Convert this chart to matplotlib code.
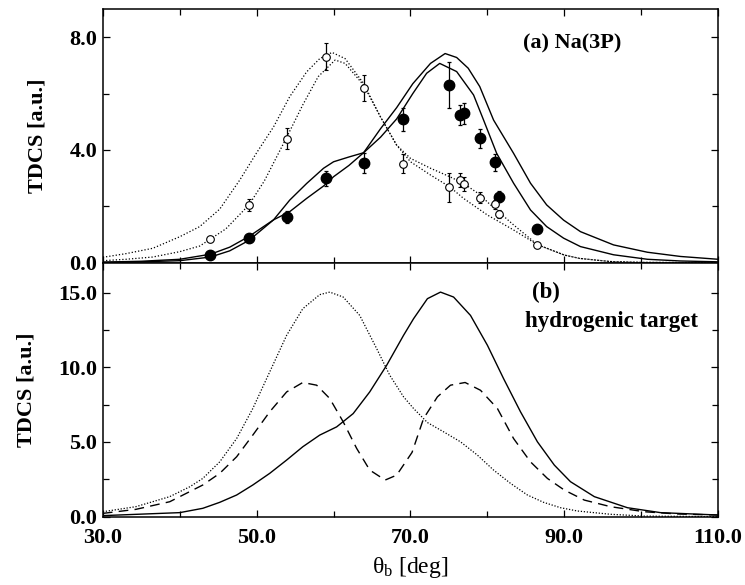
import matplotlib
matplotlib.use('Agg')
import matplotlib.pyplot as plt
from matplotlib.ticker import MultipleLocator, FixedLocator, FormatStrFormatter

plt.rcParams['font.family'] = ['Liberation Serif', 'DejaVu Serif']
plt.rcParams['mathtext.fontset'] = 'custom'
plt.rcParams['mathtext.rm'] = 'Liberation Serif'
plt.rcParams['mathtext.it'] = 'Liberation Serif:italic'

# (a) Na(3P): measured points
filled_x = [44, 49, 54, 59, 64, 69, 75, 76.5, 77, 79, 81, 81.5, 86.5]
filled_y = [0.27, 0.88, 1.61, 2.99, 3.54, 5.08, 6.30, 5.24, 5.30, 4.41, 3.56, 2.34, 1.21]
filled_err = [0.05, 0.1, 0.22, 0.27, 0.35, 0.4, 0.83, 0.37, 0.38, 0.34, 0.3, 0.2, 0.1]
open_x = [44, 49, 54, 59, 64, 69, 75, 76.5, 77, 79, 81, 81.5, 86.5]
open_y = [0.84, 2.05, 4.40, 7.31, 6.20, 3.51, 2.67, 2.93, 2.79, 2.31, 2.07, 1.72, 0.63]
open_err = [0.05, 0.2, 0.38, 0.47, 0.45, 0.34, 0.5, 0.25, 0.25, 0.2, 0.15, 0.15, 0.03]

# (a) theory curves
dot1_x = [30, 33, 36.5, 40, 42.6, 45.2, 47.8, 50, 52.2, 54.3, 56.5, 58.2, 59.8, 61.5, 63.9,
          66.1, 68.2, 70, 72.6, 75.1, 76.9, 80, 83.4, 86.5, 90, 92, 96, 100, 110]
dot1_y = [0.19, 0.32, 0.51, 0.92, 1.28, 1.9, 2.93, 3.9, 4.82, 5.89, 6.77, 7.24, 7.46, 7.24, 6.36,
          5.17, 4.17, 3.58, 3.11, 2.69, 2.28, 1.69, 1.16, 0.64, 0.27, 0.15, 0.04, 0.01, 0.0]
dot2_x = [30, 33, 36.5, 40, 42.6, 44, 46, 49, 51, 54, 56, 58, 60.2, 61.5, 63.9, 66.1, 68.2,
          70, 72.6, 75.1, 76.9, 79.1, 80, 83.4, 86.5, 90, 92, 96, 100, 110]
dot2_y = [0.07, 0.12, 0.2, 0.39, 0.59, 0.84, 1.2, 2.05, 2.9, 4.5, 5.6, 6.6, 7.19, 7.07, 6.3, 5.17, 4.17,
          3.70, 3.35, 3.05, 2.81, 2.40, 2.15, 1.34, 0.64, 0.27, 0.15, 0.04, 0.01, 0.0]
sol1_x = [30, 35, 40, 44, 46.5, 49, 52.2, 54.3, 56.5, 58.7, 60, 62, 63.9, 66.1, 68.2, 70.3, 72.6,
          74.5, 76, 77.5, 79, 80.8, 83.4, 85.6, 87.7, 89.9, 92.1, 96.4, 100.8, 105.1, 110]
sol1_y = [0.02, 0.05, 0.12, 0.30, 0.55, 0.93, 1.52, 1.81, 2.28, 2.72, 3.05, 3.45, 3.90, 4.75, 5.5, 6.35, 7.07,
          7.42, 7.28, 6.9, 6.25, 5.06, 3.88, 2.82, 2.05, 1.51, 1.10, 0.63, 0.37, 0.22, 0.12]
sol2_x = [30, 35, 40, 44, 46.5, 49, 52.2, 54.3, 56.5, 58.7, 60, 62, 63.9, 66.1, 68.2, 70.3, 72.1,
          73.8, 76, 78.2, 79.5, 81.2, 83.4, 85.6, 87.7, 89.9, 92.1, 96.4, 100.8, 105.1, 110]
sol2_y = [0.01, 0.03, 0.07, 0.20, 0.42, 0.79, 1.52, 2.22, 2.81, 3.35, 3.58, 3.75, 3.90, 4.45, 5.1, 6.0, 6.72,
          7.07, 6.78, 5.95, 5.06, 3.88, 2.82, 1.87, 1.28, 0.87, 0.57, 0.28, 0.12, 0.06, 0.03]

# (b) hydrogenic target curves
hdot_x = [30, 34.3, 38.7, 41.3, 43, 45.2, 47.4, 49.5, 51.7, 53.9, 56, 58.2, 59.5, 61.25, 63.4, 65.6,
          67.3, 69.1, 70.4, 72.2, 74.3, 76.5, 78.7, 80.8, 83, 85.2, 87.3, 89.5, 91.7, 96, 100.4, 110]
hdot_y = [0.33, 0.67, 1.34, 2.0, 2.56, 3.67, 5.23, 7.24, 9.69, 12.14, 13.92, 14.86, 15.03, 14.7, 13.47, 11.25,
          9.47, 8.02, 7.24, 6.30, 5.68, 5.01, 4.12, 3.12, 2.23, 1.45, 0.96, 0.6, 0.38, 0.16, 0.04, 0.0]
hsol_x = [30, 40, 43, 45.2, 47.4, 49.5, 51.7, 53.9, 56, 58.2, 60.4, 62.55, 64.7, 66.9, 69.1, 70.4,
          72.2, 73.9, 75.6, 77.8, 80, 82.1, 84.3, 86.5, 88.7, 90.8, 93.9, 98.2, 102.5, 110]
hsol_y = [0.07, 0.27, 0.56, 0.96, 1.45, 2.12, 2.9, 3.79, 4.68, 5.46, 6.01, 6.9, 8.35, 10.13, 12.14, 13.25,
          14.59, 15.03, 14.7, 13.47, 11.47, 9.24, 7.02, 5.01, 3.45, 2.34, 1.34, 0.6, 0.27, 0.11]
hdash_x = [30, 34.3, 38.7, 43, 45.2, 47.4, 49.5, 51.7, 53.9, 56, 57.8, 59.5, 61.25, 63, 64.7, 66.7,
           68.2, 70.2, 71.7, 73.5, 75.2, 77.1, 79.1, 81.3, 83.4, 85.6, 87.8, 90, 92.6, 96, 100.4, 104.7, 110]
hdash_y = [0.22, 0.49, 1.0, 2.12, 2.9, 4.01, 5.46, 7.02, 8.35, 8.98, 8.8, 7.91, 6.35, 4.57, 3.12, 2.45,
           2.78, 4.3, 6.57, 8.02, 8.8, 8.98, 8.46, 7.24, 5.23, 3.67, 2.56, 1.78, 1.11, 0.67, 0.33, 0.18, 0.11]

x_labels = [30, 50, 70, 90, 110]

fig = plt.figure(figsize=(7.45, 5.85), dpi=100)
ax1 = fig.add_axes([0.138, 0.551, 0.826, 0.4336])
ax2 = fig.add_axes([0.138, 0.1168, 0.826, 0.4342])

dotted = (0, (1, 1.6))

ax1.plot(dot1_x, dot1_y, color='black', lw=0.9, ls=dotted)
ax1.plot(dot2_x, dot2_y, color='black', lw=0.9, ls=dotted)
ax1.plot(sol1_x, sol1_y, color='black', lw=1.0)
ax1.plot(sol2_x, sol2_y, color='black', lw=1.0)
ax1.errorbar(filled_x, filled_y, yerr=filled_err, fmt='o', color='black', ms=7.5,
             elinewidth=0.9, capsize=1.5, capthick=0.9, zorder=5)
ax1.errorbar(open_x, open_y, yerr=open_err, fmt='o', color='black', mfc='white', ms=5.5,
             mew=0.8, elinewidth=0.9, capsize=1.5, capthick=0.9, zorder=5)
ax1.text(0.763, 0.866, '(a) Na(3P)', transform=ax1.transAxes, ha='center', va='center',
         fontsize=16, fontweight='bold')

ax2.plot(hdot_x, hdot_y, color='black', lw=0.9, ls=(0, (1, 1.4)))
ax2.plot(hsol_x, hsol_y, color='black', lw=1.0)
ax2.plot(hdash_x, hdash_y, color='black', lw=1.0, ls=(0, (7, 4.5)))
ax2.text(0.72, 0.881, '(b)', transform=ax2.transAxes, ha='center', va='center',
         fontsize=16.5, fontweight='bold')
ax2.text(0.826, 0.767, 'hydrogenic target', transform=ax2.transAxes, ha='center', va='center',
         fontsize=16.5, fontweight='bold')

ax1.set_ylim(0, 9)
ax1.yaxis.set_major_locator(MultipleLocator(4))
ax1.yaxis.set_minor_locator(MultipleLocator(2))
ax2.set_ylim(0, 17)
ax2.yaxis.set_major_locator(MultipleLocator(5))
ax2.yaxis.set_minor_locator(MultipleLocator(2.5))

for ax in (ax1, ax2):
    ax.set_xlim(30, 110)
    ax.xaxis.set_major_locator(FixedLocator(x_labels))
    ax.xaxis.set_minor_locator(MultipleLocator(10))
    ax.xaxis.set_major_formatter(FormatStrFormatter('%.1f'))
    ax.yaxis.set_major_formatter(FormatStrFormatter('%.1f'))
    ax.tick_params(which='both', direction='in', top=True, right=True, width=0.9)
    ax.tick_params(which='major', length=5, labelsize=16, pad=4)
    ax.tick_params(which='minor', length=4.5)
    ax.tick_params(axis='x', which='major', pad=8)
    for lab in ax.get_xticklabels() + ax.get_yticklabels():
        lab.set_fontweight('bold')
    for sp in ax.spines.values():
        sp.set_linewidth(1.1)
    ax.set_ylabel('TDCS [a.u.]', fontsize=16, fontweight='bold', labelpad=16)

ax1.tick_params(axis='x', labelbottom=False)
ax2.set_xlabel('θ$_\\mathrm{b}$ [deg]', fontsize=17, labelpad=5)

fig.savefig('out.png', dpi=100)
